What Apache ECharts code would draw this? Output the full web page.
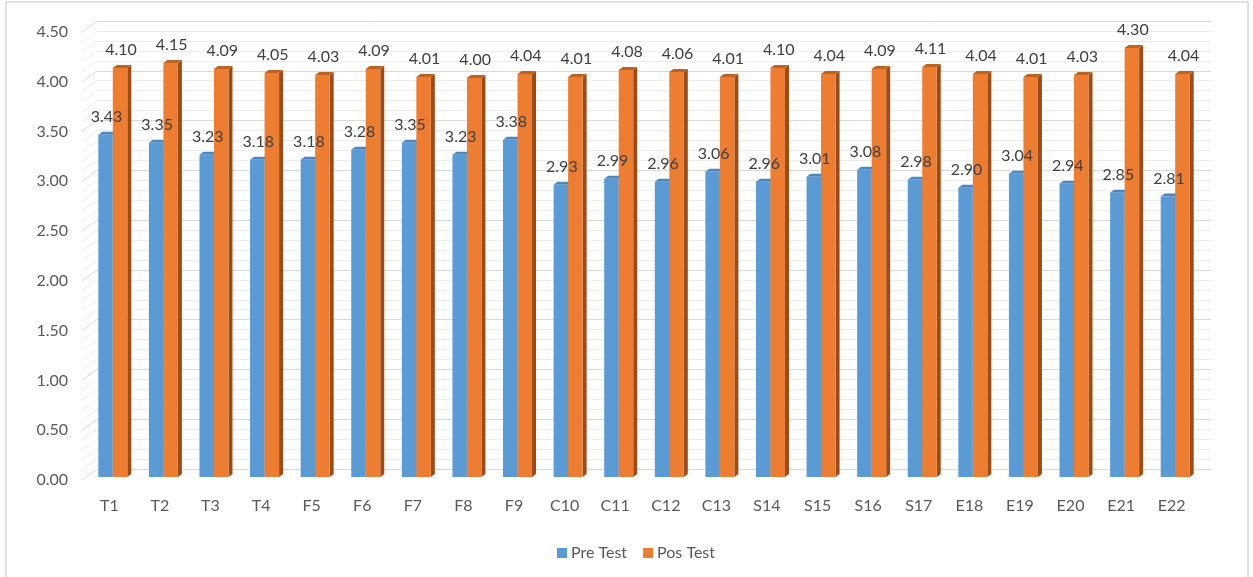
<!DOCTYPE html>
<html>
<head>
<meta charset="utf-8">
<script src="https://cdn.jsdelivr.net/npm/echarts@6/dist/echarts.min.js"></script>
<style>
html,body{margin:0;padding:0;background:#fff;}
#chart{width:1253px;height:577px;}
</style>
</head>
<body>
<div id="chart"></div>
<script>
const categories = ['T1','T2','T3','T4','F5','F6','F7','F8','F9','C10','C11','C12','C13','S14','S15','S16','S17','E18','E19','E20','E21','E22'];
const preTest = [3.43,3.35,3.23,3.18,3.18,3.28,3.35,3.23,3.38,2.93,2.99,2.96,3.06,2.96,3.01,3.08,2.98,2.90,3.04,2.94,2.85,2.81];
const posTest = [4.10,4.15,4.09,4.05,4.03,4.09,4.01,4.00,4.04,4.01,4.08,4.06,4.01,4.10,4.04,4.09,4.11,4.04,4.01,4.03,4.30,4.04];
const yTickLabels = ['0.00','0.50','1.00','1.50','2.00','2.50','3.00','3.50','4.00','4.50'];
const seriesNames = ['Pre Test','Pos Test'];

const FONT = 'Lato, "Liberation Sans", sans-serif';
const yMax = 4.5;
const BAR_W = 14.5;
const PRE_OFF = -11, POS_OFF = 3.5;

// wall line positions (major ticks + minor subdivisions)
const wallLines = [];
for (let k = 0; k < yTickLabels.length; k++) {
  const v = parseFloat(yTickLabels[k]);
  wallLines.push([0, v, 1]);
  if (k < yTickLabels.length - 1) {
    for (let m = 1; m < 5; m++) wallLines.push([0, +(v + m * 0.1).toFixed(2), 0]);
  }
}

function makeBarRender(offset, width, front, side, top) {
  const dx = 4, dy = 3;
  return function (params, api) {
    const i = api.value(0), v = api.value(1);
    const pt = api.coord([i, v]);
    const pb = api.coord([i, 0]);
    const x1 = pt[0] + offset, x2 = x1 + width;
    const yT = pt[1], yB = pb[1];
    return {
      type: 'group',
      children: [
        { type: 'polygon', shape: { points: [[x2, yB], [x2, yT], [x2 + dx, yT - dy], [x2 + dx, yB - dy]] }, style: { fill: side } },
        { type: 'polygon', shape: { points: [[x1, yT], [x2, yT], [x2 + dx, yT - dy], [x1 + dx, yT - dy]] }, style: { fill: top } },
        { type: 'rect', shape: { x: x1, y: yT, width: width, height: yB - yT }, style: { fill: front } }
      ]
    };
  };
}

function makeLabelRender(offset, width) {
  return function (params, api) {
    const i = api.value(0), v = api.value(1);
    const pt = api.coord([i, v]);
    const x1 = pt[0] + offset;
    return { type: 'text', x: x1 + width / 2 + 1, y: pt[1] - 18,
      style: { text: v.toFixed(2), fill: '#404040', font: '16px ' + FONT, align: 'center', verticalAlign: 'middle' } };
  };
}

const chart = echarts.init(document.getElementById('chart'), null, { renderer: 'canvas' });
chart.setOption({
  backgroundColor: '#ffffff',
  animation: false,
  graphic: [{
    type: 'rect', shape: { x: 6, y: 2, width: 1242, height: 600 },
    style: { fill: 'none', stroke: '#d9d9d9', lineWidth: 1.5 }, silent: true, z: -10
  }],
  legend: {
    left: 552, top: 540,
    itemWidth: 10, itemHeight: 10, itemGap: 16,
    icon: 'rect',
    data: seriesNames,
    textStyle: { color: '#595959', fontSize: 16, fontFamily: FONT, padding: [0, 0, 0, -1] }
  },
  grid: [
    { left: 97, right: 42, top: 21, bottom: 108 },
    { left: 82, right: 42, top: 32, bottom: 97 },
    { left: 84, right: 56, top: 28, bottom: 100 }
  ],
  xAxis: [
    { gridIndex: 0, type: 'value', min: 0, max: 1, show: false },
    { gridIndex: 1, type: 'value', min: 0, max: 1, show: false },
    { gridIndex: 2, type: 'category', data: categories,
      axisLine: { show: false }, axisTick: { show: false },
      axisLabel: { margin: 21, color: '#595959', fontSize: 16, fontFamily: FONT } }
  ],
  yAxis: [
    { gridIndex: 0, type: 'value', min: 0, max: yMax, interval: 0.5,
      axisLabel: { show: false }, axisLine: { show: false }, axisTick: { show: false },
      splitLine: { show: true, lineStyle: { color: '#d9d9d9', width: 1 } },
      minorTick: { show: false, splitNumber: 5 },
      minorSplitLine: { show: true, lineStyle: { color: '#ededed', width: 1 } } },
    { gridIndex: 1, type: 'value', min: 0, max: yMax, interval: 0.5,
      axisLine: { show: false }, axisTick: { show: false }, splitLine: { show: false },
      axisLabel: { margin: 14, color: '#595959', fontSize: 16, fontFamily: FONT,
        formatter: function (v) { return yTickLabels[Math.round(v / 0.5)]; } } },
    { gridIndex: 2, type: 'value', min: 0, max: yMax, show: false }
  ],
  series: [
    {
      name: 'Pre Test', type: 'custom', xAxisIndex: 2, yAxisIndex: 2,
      itemStyle: { color: '#5b9bd5' },
      data: preTest.map((v, i) => [i, v]),
      encode: { x: 0, y: 1 },
      clip: false, z: 5,
      renderItem: makeBarRender(PRE_OFF, BAR_W, '#5b9bd5', '#41719c', '#4a86c0')
    },
    {
      name: 'Pos Test', type: 'custom', xAxisIndex: 2, yAxisIndex: 2,
      itemStyle: { color: '#ed7d31' },
      data: posTest.map((v, i) => [i, v]),
      encode: { x: 0, y: 1 },
      clip: false, z: 6,
      renderItem: makeBarRender(POS_OFF, BAR_W, '#ed7d31', '#9e4c17', '#c0621f')
    },
    {
      type: 'custom', xAxisIndex: 2, yAxisIndex: 2, silent: true, clip: false, z: 10,
      data: preTest.map((v, i) => [i, v]),
      encode: { x: 0, y: 1 },
      renderItem: makeLabelRender(PRE_OFF, BAR_W)
    },
    {
      type: 'custom', xAxisIndex: 2, yAxisIndex: 2, silent: true, clip: false, z: 10,
      data: posTest.map((v, i) => [i, v]),
      encode: { x: 0, y: 1 },
      renderItem: makeLabelRender(POS_OFF, BAR_W)
    },
    {
      type: 'custom', xAxisIndex: 0, yAxisIndex: 0, silent: true, clip: false, z: 1,
      data: wallLines,
      encode: { x: 0, y: 1 },
      renderItem: function (params, api) {
        const p = api.coord([0, api.value(1)]);
        return { type: 'line', shape: { x1: p[0] - 15, y1: p[1] + 11, x2: p[0], y2: p[1] },
          style: { stroke: api.value(2) ? '#d9d9d9' : '#ededed', lineWidth: 1 } };
      }
    }
  ]
});
</script>
</body>
</html>
